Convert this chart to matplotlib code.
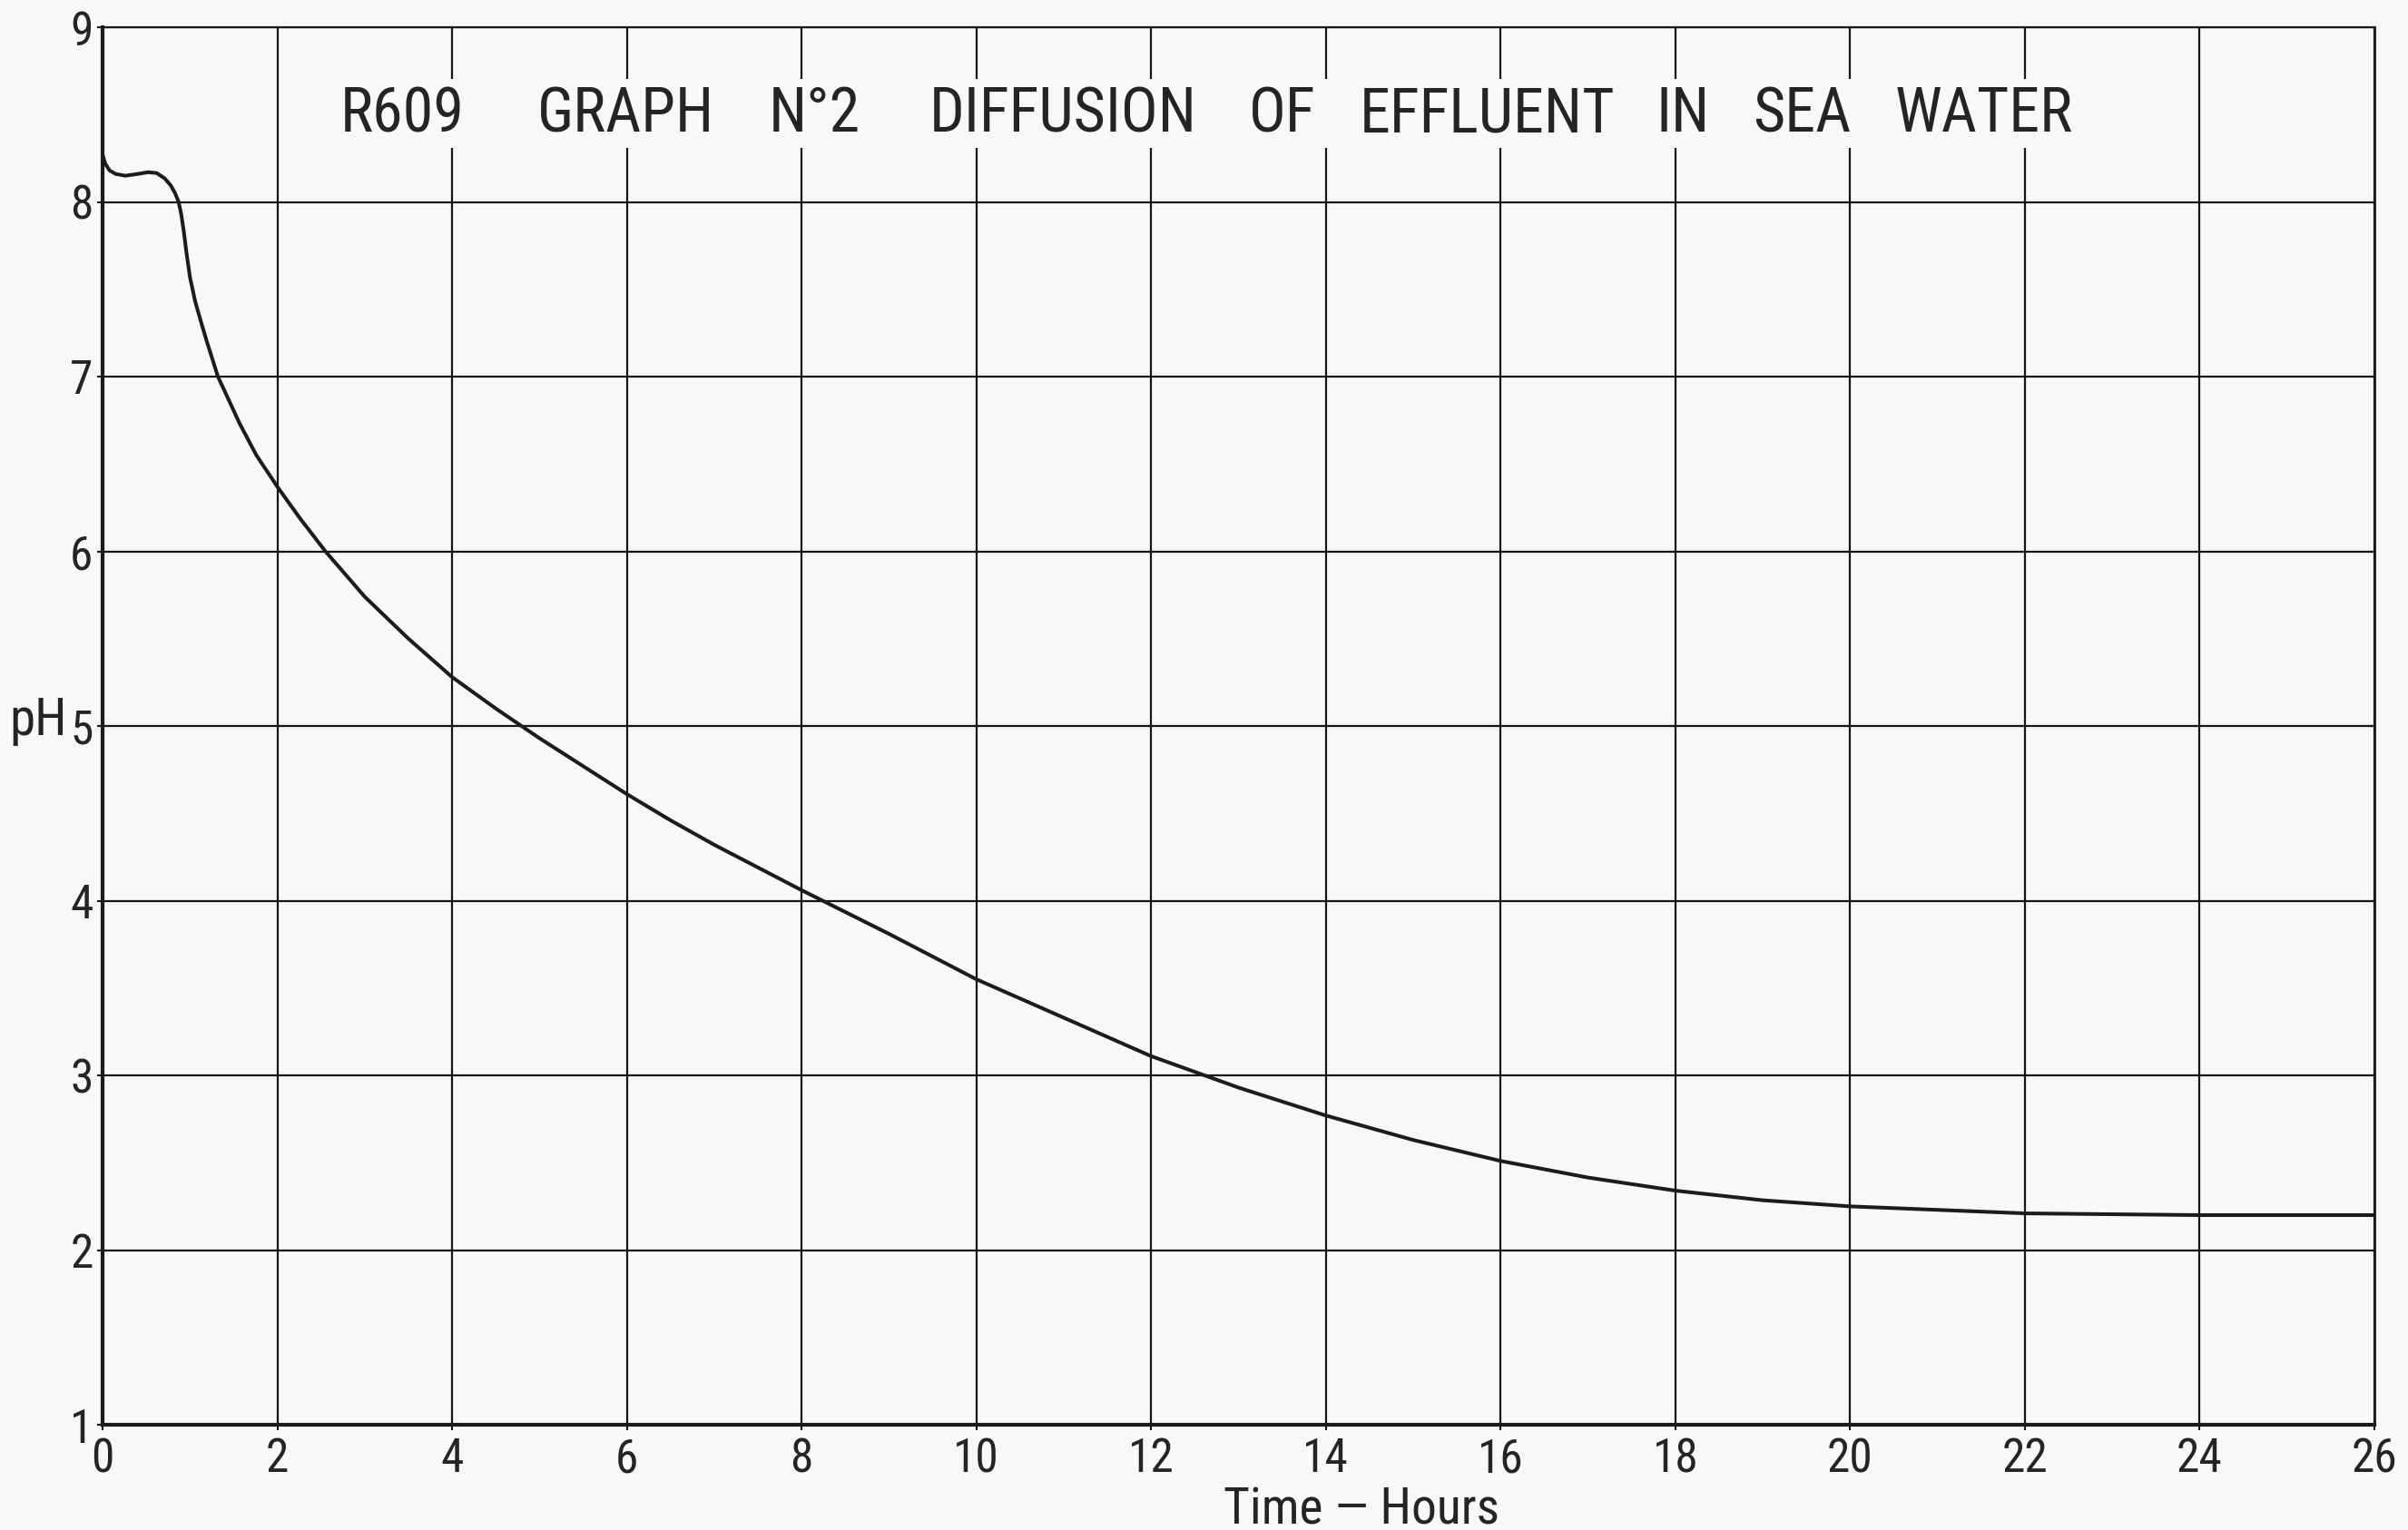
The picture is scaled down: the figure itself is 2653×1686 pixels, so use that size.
import matplotlib
matplotlib.use("Agg")
import matplotlib.pyplot as plt
from matplotlib import font_manager
from matplotlib.patches import Rectangle

# ---- data ----
hours = [0.0, 0.03, 0.08, 0.15, 0.26, 0.40, 0.52, 0.62, 0.71, 0.78, 0.83,
         0.87, 0.90, 0.93, 0.96, 1.0, 1.06, 1.14, 1.2, 1.27, 1.32, 1.45, 1.57,
         1.76, 2.0, 2.25, 2.55, 3.0, 3.5, 4.0, 4.5, 5.0, 5.5, 6.0, 6.5, 7.0,
         7.5, 8.0, 9.0, 10.0, 11.0, 12.0, 13.0, 14.0, 15.0, 16.0, 17.0, 18.0,
         19.0, 20.0, 21.0, 22.0, 23.0, 24.0, 25.0, 26.0]
ph = [8.27, 8.22, 8.18, 8.16, 8.15, 8.16, 8.17, 8.165, 8.135, 8.095, 8.05,
      8.00, 7.93, 7.83, 7.71, 7.57, 7.43, 7.29, 7.19, 7.08, 7.00, 6.86, 6.73,
      6.55, 6.37, 6.195, 6.00, 5.74, 5.50, 5.28, 5.10, 4.93, 4.77, 4.61, 4.46,
      4.32, 4.19, 4.06, 3.81, 3.55, 3.33, 3.11, 2.93, 2.77, 2.63, 2.51, 2.415,
      2.34, 2.285, 2.25, 2.23, 2.21, 2.205, 2.20, 2.20, 2.20]

x_ticks = [0, 2, 4, 6, 8, 10, 12, 14, 16, 18, 20, 22, 24, 26]
y_ticks = [1, 2, 3, 4, 5, 6, 7, 8, 9]
title_words = ["R609", "GRAPH", "N°2", "DIFFUSION", "OF", "EFFLUENT", "IN", "SEA", "WATER"]
x_label = "Time — Hours"
y_label = "pH"

# ---- font: prefer a narrow / condensed face (reference uses a DIN-like stencil) ----
fl = font_manager.fontManager.ttflist
names = {f.name for f in fl}
FONT, STRETCH = None, "normal"
for want in ["Liberation Sans Narrow", "Roboto Condensed", "Open Sans Condensed",
             "Noto Sans Condensed", "DejaVu Sans Condensed"]:
    if want in names:
        FONT = want
        break
if FONT is None:
    for f in fl:
        if f.name in ("DejaVu Sans", "Roboto", "Noto Sans", "Open Sans") and \
                f.stretch in ("condensed", "semi-condensed") and f.weight in (400, "normal", "regular"):
            FONT, STRETCH = f.name, f.stretch
            break
if FONT is None:
    FONT = "Roboto" if "Roboto" in names else "DejaVu Sans"
plt.rcParams["font.family"] = [FONT, "DejaVu Sans"]
plt.rcParams["font.stretch"] = STRETCH

W, H = 2653, 1686
fig = plt.figure(figsize=(W / 100, H / 100), dpi=100)
paper = "#f8f8f8"
ink = "#242424"
fig.patch.set_facecolor(paper)

L, R, T, B = 113, 2616, 30, 1570
ax = fig.add_axes([L / W, 1 - B / H, (R - L) / W, (B - T) / H])
ax.set_facecolor(paper)

ax.plot(hours, ph, color="#1c1c1c", lw=2.9, solid_joinstyle="round",
        solid_capstyle="round", zorder=2)

ax.set_xlim(0, 26)
ax.set_ylim(1, 9)
ax.set_xticks(x_ticks)
ax.set_yticks(y_ticks)
ax.set_xticklabels([str(v) for v in x_ticks])
ax.set_yticklabels([str(v) for v in y_ticks])
ax.set_axisbelow(True)
ax.grid(True, color="#151515", lw=1.6)

for side, lw in [("left", 3.0), ("bottom", 3.0), ("top", 1.6), ("right", 2.0)]:
    ax.spines[side].set_linewidth(lw)
    ax.spines[side].set_color("#1a1a1a")

ax.tick_params(axis="both", direction="out", length=4.5, width=1.5,
               color="#151515", labelsize=37, labelcolor=ink)
ax.tick_params(axis="x", pad=5)
ax.tick_params(axis="y", pad=3)

# title: paper-coloured band hiding the grid, words centred on the reference words
word_x = [376, 587, 841, 1015, 1374, 1486, 1827, 1922, 2090]
word_w = [135, 205, 112, 313, 78, 305, 54, 127, 191]
ax.add_patch(Rectangle((366 / W, 1 - 163 / H), (2291 - 366) / W, (163 - 87) / H,
                       transform=fig.transFigure, facecolor=paper,
                       edgecolor="none", zorder=4, clip_on=False))
for wx, wd, ww in zip(word_x, title_words, word_w):
    ax.text((wx + ww / 2) / W, 1 - 145 / H, wd, transform=fig.transFigure,
            fontsize=49, color=ink, ha="center", va="baseline", zorder=5)

fig.text(42 / W, 1 - 810 / H, y_label, fontsize=41,
         color=ink, ha="center", va="baseline")
fig.text(1500 / W, 1 - 1680 / H, x_label, fontsize=40,
         color=ink, ha="center", va="baseline")

fig.savefig("out.png", dpi=100, facecolor=paper)
